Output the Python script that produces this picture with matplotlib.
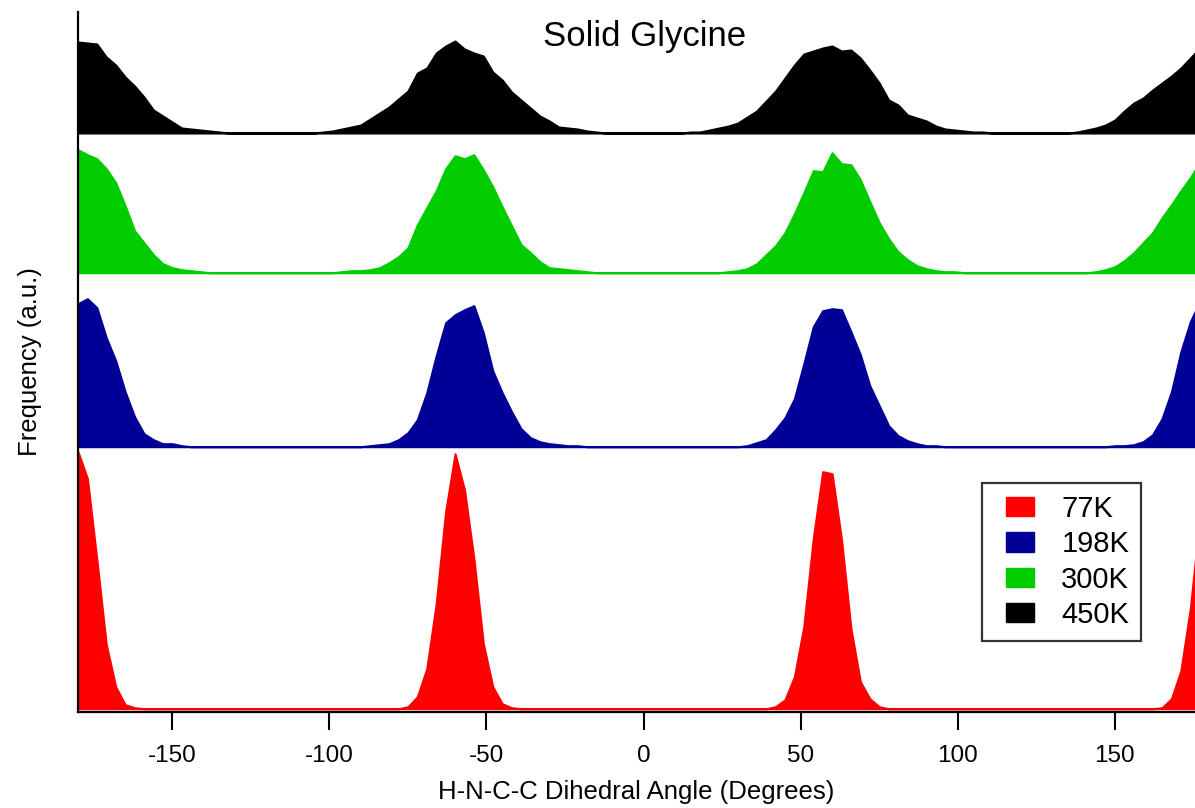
import numpy as np
import matplotlib
matplotlib.use("Agg")
import matplotlib.pyplot as plt
from matplotlib.patches import Patch, Rectangle
from matplotlib.legend_handler import HandlerPatch

plt.rcParams['font.family'] = ['Liberation Sans', 'DejaVu Sans']
plt.rcParams['axes.unicode_minus'] = False

# Dihedral angle bin centres (degrees)
angles = np.arange(-180, 181, 3)

labels = ["77K", "198K", "300K", "450K"]

freq_77K = [
    257, 230, 149, 64, 22, 4, 1, 0, 0, 0,
    0, 0, 0, 0, 0, 0, 0, 0, 0, 0,
    0, 0, 0, 0, 0, 0, 0, 0, 0, 0,
    0, 0, 0, 0, 0, 2, 12, 40, 105, 197,
    255, 219, 150, 65, 22, 5, 1, 0, 0, 0,
    0, 0, 0, 0, 0, 0, 0, 0, 0, 0,
    0, 0, 0, 0, 0, 0, 0, 0, 0, 0,
    0, 0, 0, 0, 2, 9, 32, 82, 170, 237,
    235, 169, 80, 27, 10, 2, 0, 0, 0, 0,
    0, 0, 0, 0, 0, 0, 0, 0, 0, 0,
    0, 0, 0, 0, 0, 0, 0, 0, 0, 0,
    0, 0, 0, 0, 0, 1, 10, 38, 100, 190,
    257]

freq_198K = [
    143, 148, 139, 109, 86, 55, 30, 13, 7, 3,
    3, 1, 0, 0, 0, 0, 0, 0, 0, 0,
    0, 0, 0, 0, 0, 0, 0, 0, 0, 0,
    0, 1, 2, 3, 7, 14, 27, 54, 91, 124,
    132, 137, 141, 114, 76, 54, 35, 18, 9, 5,
    3, 2, 1, 1, 0, 0, 0, 0, 0, 0,
    0, 0, 0, 0, 0, 0, 0, 0, 0, 0,
    0, 1, 4, 7, 17, 29, 48, 83, 120, 136,
    138, 137, 115, 92, 61, 41, 21, 11, 6, 3,
    1, 1, 0, 0, 0, 0, 0, 0, 0, 0,
    0, 0, 0, 0, 0, 0, 0, 0, 0, 0,
    1, 1, 2, 5, 12, 28, 55, 95, 125, 145,
    143]

freq_300K = [
    123, 118, 114, 104, 90, 67, 42, 30, 18, 9,
    5, 3, 2, 1, 0, 0, 0, 0, 0, 0,
    0, 0, 0, 0, 0, 0, 0, 0, 1, 2,
    2, 3, 5, 10, 16, 25, 48, 65, 82, 104,
    117, 114, 118, 103, 86, 66, 47, 28, 20, 11,
    5, 4, 3, 2, 1, 0, 0, 0, 0, 0,
    0, 0, 0, 0, 0, 0, 0, 0, 0, 1,
    2, 4, 9, 18, 27, 40, 59, 80, 102, 101,
    120, 109, 108, 93, 71, 50, 34, 21, 13, 7,
    4, 2, 1, 1, 0, 0, 0, 0, 0, 0,
    0, 0, 0, 0, 0, 0, 0, 0, 1, 3,
    6, 12, 20, 30, 40, 55, 68, 82, 95, 110,
    123]

freq_450K = [
    91, 90, 89, 76, 68, 56, 47, 36, 23, 17,
    11, 5, 4, 3, 2, 1, 0, 0, 0, 0,
    0, 0, 0, 0, 0, 0, 1, 2, 4, 6,
    8, 14, 20, 26, 34, 42, 60, 65, 80, 87,
    92, 84, 80, 77, 61, 53, 41, 33, 25, 17,
    12, 6, 5, 4, 2, 1, 0, 0, 0, 0,
    0, 0, 0, 0, 0, 1, 1, 3, 5, 7,
    10, 16, 22, 32, 42, 55, 68, 79, 82, 85,
    87, 82, 83, 75, 63, 50, 33, 28, 18, 15,
    12, 7, 4, 3, 2, 1, 1, 0, 0, 0,
    0, 0, 0, 0, 0, 0, 1, 3, 5, 8,
    13, 22, 30, 35, 43, 50, 57, 65, 75, 85,
    91]

series = [freq_77K, freq_198K, freq_300K, freq_450K]
colors = ["#FF0000", "#000096", "#00CC00", "#000000"]
offsets = [0, 262, 436, 575.7]

fig = plt.figure(figsize=(11.95, 8.08), dpi=100)
ax = fig.add_axes([78 / 1195, 96 / 808, 1117 / 1195, 700 / 808])

for vals, col, off in zip(series, colors, offsets):
    v = np.asarray(vals, dtype=float)
    ax.fill_between(angles, off, off + v, facecolor=col, edgecolor=col,
                    linewidth=1.5)

ax.set_xlim(-180, 175.5)
ax.set_ylim(-3.3, 696.7)

ax.spines['top'].set_visible(False)
ax.spines['right'].set_visible(False)
ax.spines['left'].set_linewidth(1.6)
ax.spines['bottom'].set_linewidth(1.6)

ax.set_xticks([-150, -100, -50, 0, 50, 100, 150])
ax.set_yticks([])
ax.tick_params(axis='x', direction='out', length=13, width=1.5,
               labelsize=17.5, pad=11)

ax.set_xlabel("H-N-C-C Dihedral Angle (Degrees)", fontsize=18.5, labelpad=9)
ax.set_ylabel("Frequency (a.u.)", fontsize=18.5, labelpad=26)

ax.text(0.507, 0.965, "Solid Glycine", transform=ax.transAxes,
        ha='center', va='center', fontsize=25)


def shifted_patch(legend, orig_handle, xdescent, ydescent, width, height,
                  fontsize):
    pw = 28 * 72 / 100.0
    return Rectangle((-xdescent + width - pw, -ydescent), pw, height)


handles = [Patch(facecolor=c, edgecolor=c) for c in colors]
leg = ax.legend(handles, labels, loc='upper left',
                bbox_to_anchor=(0.809, 0.3267), borderaxespad=0,
                fontsize=21, frameon=True, fancybox=False,
                handlelength=1.38, handleheight=0.63, handletextpad=0.95,
                labelspacing=0.25, borderpad=0.4,
                handler_map={Patch: HandlerPatch(patch_func=shifted_patch)})
leg.get_frame().set_edgecolor('black')
leg.get_frame().set_linewidth(1.6)

fig.savefig("out.png", dpi=100)
